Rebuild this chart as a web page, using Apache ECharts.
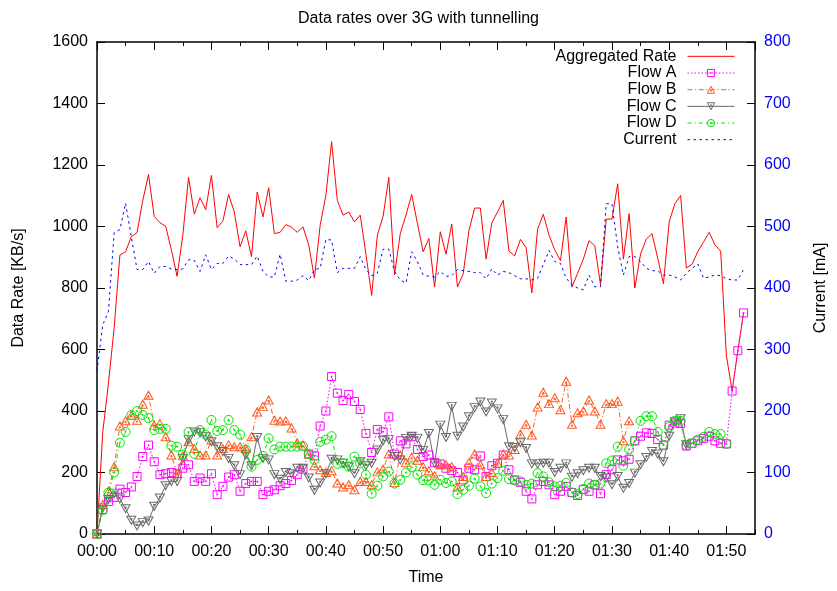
<!DOCTYPE html>
<html>
<head>
<meta charset="utf-8">
<title>Data rates over 3G with tunnelling</title>
<script src="https://cdn.jsdelivr.net/npm/echarts@6/dist/echarts.min.js"></script>
<style>
  html, body { margin: 0; padding: 0; background: #fff; }
  #chart { width: 837px; height: 591px; }
</style>
</head>
<body>
<div id="chart"></div>
<script>
// One sample per minute, starting at 00:00.
const timeLabels = ['00:00', '00:10', '00:20', '00:30', '00:40', '00:50',
                    '01:00', '01:10', '01:20', '01:30', '01:40', '01:50'];
const rateTicks = [0, 200, 400, 600, 800, 1000, 1200, 1400, 1600];
const currentTicks = [0, 100, 200, 300, 400, 500, 600, 700, 800];

// KB/s
const aggregatedRate = [
  0, 330, 490, 670, 907, 918, 967, 980, 1085, 1169,
  1033, 1012, 1001, 924, 838, 972, 1160, 1040, 1094, 1055,
  1166, 996, 1018, 1104, 1047, 934, 986, 902, 1112, 1031,
  1126, 977, 981, 1006, 998, 981, 999, 940, 832, 1004,
  1101, 1276, 1085, 1037, 1047, 1015, 1037, 911, 776, 972,
  1033, 1160, 843, 977, 1037, 1104, 1010, 918, 961, 803,
  983, 910, 1008, 803, 846, 986, 1060, 1060, 894, 1012,
  1047, 1085, 920, 904, 958, 931, 784, 991, 1040, 972,
  924, 889, 1031, 803, 848, 894, 954, 937, 811, 1024,
  1024, 1139, 894, 1042, 800, 911, 959, 977, 897, 814,
  1015, 1074, 1101, 865, 877, 918, 950, 981, 940, 920,
  580, 465, 596, 719
];
const flowA = [
  0, 80, 106, 119, 146, 135, 153, 187, 252, 289,
  235, 193, 196, 200, 196, 214, 225, 171, 182, 171,
  196, 128, 155, 185, 193, 139, 164, 171, 171, 128,
  139, 144, 157, 164, 174, 193, 211, 260, 254, 351,
  400, 512, 458, 434, 454, 431, 405, 327, 265, 340,
  332, 381, 260, 303, 293, 316, 275, 252, 257, 232,
  228, 214, 206, 200, 176, 214, 209, 254, 187, 222,
  230, 257, 209, 176, 168, 139, 114, 160, 171, 160,
  128, 139, 155, 135, 125, 145, 139, 160, 131, 193,
  209, 241, 238, 243, 303, 318, 329, 327, 307, 289,
  354, 361, 359, 286, 295, 303, 311, 318, 303, 295,
  293, 465, 596, 719
];
const flowB = [
  0, 96, 139, 219, 351, 368, 386, 370, 422, 451,
  354, 359, 316, 257, 198, 254, 300, 278, 257, 257,
  306, 257, 278, 290, 284, 284, 278, 316, 397, 415,
  436, 370, 367, 368, 345, 297, 289, 260, 222, 209,
  200, 206, 166, 153, 160, 144, 171, 171, 160, 202,
  211, 260, 167, 257, 233, 250, 240, 219, 206, 189,
  225, 225, 219, 153, 187, 232, 260, 225, 187, 200,
  230, 260, 257, 275, 325, 357, 322, 413, 461, 424,
  443, 404, 497, 357, 394, 400, 436, 400, 357, 424,
  424, 432, 303, 368
];
const flowC = [
  0, 85, 112, 133, 114, 82, 45, 26, 37, 42,
  90, 117, 157, 171, 171, 246, 307, 332, 329, 316,
  300, 284, 268, 246, 222, 193, 257, 222, 314, 246,
  241, 193, 178, 200, 196, 214, 214, 182, 142, 166,
  196, 243, 241, 230, 219, 196, 235, 222, 230, 273,
  303, 307, 252, 241, 311, 318, 311, 272, 327, 230,
  354, 314, 415, 318, 348, 381, 411, 429, 397, 426,
  407, 372, 284, 281, 297, 278, 228, 228, 230, 230,
  200, 214, 228, 185, 196, 206, 214, 214, 187, 182,
  160, 187, 149, 164, 198, 225, 249, 268, 260, 235,
  318, 365, 375, 290
];
const flowD = [
  0, 77, 135, 200, 297, 332, 387, 400, 387, 377,
  338, 342, 342, 287, 284, 258, 332, 261, 338, 323,
  371, 335, 338, 371, 338, 323, 274, 219, 241, 254,
  311, 275, 284, 284, 284, 284, 286, 260, 241, 300,
  307, 318, 228, 230, 219, 252, 230, 193, 131, 157,
  187, 203, 164, 176, 200, 217, 193, 175, 174, 160,
  176, 166, 171, 130, 144, 157, 180, 155, 133, 164,
  182, 206, 178, 174, 171, 160, 164, 198, 187, 168,
  155, 157, 166, 135, 130, 146, 164, 160, 164, 230,
  239, 284, 222, 275, 303, 368, 383, 383, 332, 289,
  348, 368, 368, 289, 295, 307, 316, 332, 325, 325,
  293
];
// mA
const current = [
  265, 340, 362, 490, 495, 538, 483, 430, 430, 443,
  424, 435, 435, 431, 430, 431, 446, 445, 427, 454,
  430, 440, 440, 452, 447, 438, 438, 438, 452, 427,
  418, 418, 455, 411, 411, 413, 420, 412, 430, 432,
  479, 478, 425, 432, 432, 432, 451, 430, 420, 424,
  463, 463, 427, 413, 408, 459, 443, 421, 419, 418,
  427, 419, 420, 430, 428, 427, 425, 425, 415, 431,
  421, 427, 425, 420, 415, 415, 413, 416, 438, 461,
  443, 440, 416, 405, 400, 397, 421, 402, 402, 537,
  537, 467, 421, 451, 451, 443, 432, 428, 428, 421,
  421, 418, 413, 424, 432, 439, 416, 418, 421, 420,
  415, 413, 413, 430
];

const FONT = '"Liberation Sans", Arial, Helvetica, sans-serif';

// Hollow point glyphs with a small dot marking the sample itself.
const SQUARE = 'path://M0,0H10V10H0Z M4.5,4.5H5.5V5.5H4.5Z';
const TRI_UP = 'path://M5,0L10,8.66L0,8.66Z M4.5,5.3H5.5V6.3H4.5Z';
const TRI_DOWN = 'path://M0,0L10,0L5,8.66Z M4.5,2.4H5.5V3.4H4.5Z';
const CIRCLE = 'path://M10,5A5,5,0,1,1,0,5A5,5,0,1,1,10,5Z M4.5,4.5H5.5V5.5H4.5Z';

const byMinute = values => values.map((v, i) => [i, v]);

const chart = echarts.init(document.getElementById('chart'), null, { renderer: 'canvas' });

const timeAxis = (position, interval, tickLen, extra) => Object.assign({
  type: 'value', min: 0, max: 115, interval: interval, position: position,
  axisLine: { show: false, onZero: false },
  axisTick: { show: true, inside: true, length: tickLen, lineStyle: { color: '#000', width: 1 } },
  axisLabel: { show: false },
  splitLine: { show: false }
}, extra || {});

const pointSeries = (name, values, color, dash, symbol, size) => ({
  name: name, type: 'line', data: byMinute(values),
  xAxisIndex: 0, yAxisIndex: 0,
  symbol: symbol, symbolSize: size, showSymbol: true, showAllSymbol: true,
  lineStyle: { color: color, width: 1, type: dash },
  itemStyle: { color: 'rgba(0,0,0,0)', borderColor: color, borderWidth: 1 },
  emphasis: { disabled: true }
});

chart.setOption({
  animation: false,
  backgroundColor: '#fff',
  title: {
    text: 'Data rates over 3G with tunnelling',
    left: 'center', top: 11, padding: 0,
    textStyle: { fontFamily: FONT, fontSize: 16, fontWeight: 'normal', color: '#000' }
  },
  grid: { left: 97, right: 82, top: 42, bottom: 53, containLabel: false },
  legend: {
    orient: 'vertical', align: 'right', right: 102, top: 48, padding: 0,
    itemGap: 0, itemWidth: 47, itemHeight: 9, selectedMode: false,
    textStyle: { fontFamily: FONT, fontSize: 16, color: '#000', lineHeight: 16.67, padding: [0, 6, 0, 0] },
    lineStyle: { width: 1 },
    itemStyle: { borderWidth: 1 },
    data: [
      { name: 'Aggregated Rate', itemStyle: { opacity: 0 } },
      'Flow A', 'Flow B', 'Flow C', 'Flow D',
      { name: 'Current', itemStyle: { opacity: 0 } }
    ]
  },
  xAxis: [
    timeAxis('bottom', 10, 8, {
      axisLine: { show: true, onZero: false, lineStyle: { color: '#000', width: 1.5 } },
      axisLabel: {
        show: true, margin: 10, color: '#000', fontFamily: FONT, fontSize: 16,
        showMaxLabel: false,
        formatter: v => (v % 10 === 0 && timeLabels[v / 10]) || ''
      },
      name: 'Time', nameLocation: 'middle', nameGap: 36,
      nameTextStyle: { fontFamily: FONT, fontSize: 16, color: '#000' }
    }),
    timeAxis('bottom', 5, 4),
    timeAxis('top', 10, 8, {
      axisLine: { show: true, onZero: false, lineStyle: { color: '#000', width: 1.5 } }
    }),
    timeAxis('top', 5, 4)
  ],
  yAxis: [
    {
      type: 'value', position: 'left',
      min: rateTicks[0], max: rateTicks[rateTicks.length - 1], interval: rateTicks[1] - rateTicks[0],
      axisLine: { show: true, onZero: false, lineStyle: { color: '#000', width: 1.5 } },
      axisTick: { show: true, inside: true, length: 8, lineStyle: { color: '#000', width: 1 } },
      axisLabel: { margin: 9, color: '#000', fontFamily: FONT, fontSize: 16, formatter: v => String(v) },
      splitLine: { show: false },
      name: 'Data Rate [KB/s]', nameLocation: 'middle', nameGap: 70, nameRotate: 90,
      nameTextStyle: { fontFamily: FONT, fontSize: 16, color: '#000' }
    },
    {
      type: 'value', position: 'right',
      min: currentTicks[0], max: currentTicks[currentTicks.length - 1], interval: currentTicks[1] - currentTicks[0],
      axisLine: { show: true, onZero: false, lineStyle: { color: '#000', width: 1.5 } },
      axisTick: { show: true, inside: true, length: 8, lineStyle: { color: '#000', width: 1 } },
      axisLabel: { margin: 9, color: '#0000ff', fontFamily: FONT, fontSize: 16, formatter: v => String(v) },
      splitLine: { show: false },
      name: 'Current [mA]', nameLocation: 'middle', nameGap: 58, nameRotate: 90,
      nameTextStyle: { fontFamily: FONT, fontSize: 16, color: '#000' }
    }
  ],
  series: [
    {
      name: 'Aggregated Rate', type: 'line', data: byMinute(aggregatedRate),
      xAxisIndex: 0, yAxisIndex: 0, symbol: 'none', showSymbol: false,
      lineStyle: { color: '#ff0000', width: 1 },
      itemStyle: { color: '#ff0000' },
      emphasis: { disabled: true }
    },
    pointSeries('Flow A', flowA, '#ff00ff', [1.5, 2], SQUARE, 8),
    pointSeries('Flow B', flowB, '#ff5a1e', [5, 2.5, 1.2, 2.5], TRI_UP, [9, 8]),
    pointSeries('Flow C', flowC, '#6a6a6a', 'solid', TRI_DOWN, [9, 8]),
    pointSeries('Flow D', flowD, '#00e600', [4, 3, 1.2, 3], CIRCLE, 9),
    {
      name: 'Current', type: 'line', data: byMinute(current),
      xAxisIndex: 0, yAxisIndex: 1, symbol: 'none', showSymbol: false,
      lineStyle: { color: '#0000ff', width: 1, type: [2.5, 3.5] },
      itemStyle: { color: '#0000ff' },
      emphasis: { disabled: true }
    }
  ]
});
</script>
</body>
</html>
